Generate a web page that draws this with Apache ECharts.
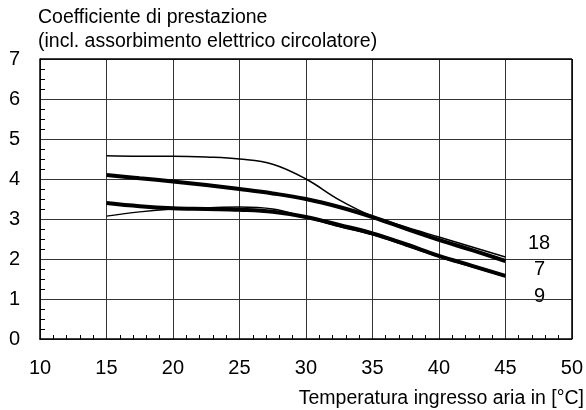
<!DOCTYPE html>
<html>
<head>
<meta charset="utf-8">
<script src="https://cdn.jsdelivr.net/npm/echarts@6/dist/echarts.min.js"></script>
<style>
  html, body { margin: 0; padding: 0; background: #fff; }
  #chart { width: 586px; height: 410px; }
</style>
</head>
<body>
<div id="chart"></div>
<script>
  // temperatura ingresso aria [°C]
  var temps = [15, 17.5, 20, 22.5, 25, 27.5, 30, 32.5, 35, 37.5, 40, 42.5, 45]
  // curve sottili / spesse
  var thinUpper = [4.58, 4.57, 4.57, 4.55, 4.5, 4.37, 4.0, 3.48, 3.07, 2.8, 2.55, 2.3, 2.05]
  var thickUpper = [4.1, 4.02, 3.94, 3.85, 3.75, 3.64, 3.5, 3.3, 3.05, 2.76, 2.48, 2.22, 1.95]
  var thickLower = [3.4, 3.32, 3.27, 3.25, 3.23, 3.18, 3.05, 2.85, 2.64, 2.37, 2.08, 1.83, 1.58]
  var thinLower = [3.07, 3.18, 3.25, 3.28, 3.3, 3.25, 3.04, 2.81, 2.6, 2.33, 2.05, 1.8, 1.56]
  var curveLabels = ['18', '7', '9']

  var font = 'Liberation Sans, Arial, sans-serif'

  function pairs(vals) {
    return vals.map(function (v, i) { return [temps[i], v] })
  }

  function line(name, vals, width) {
    return {
      name: name,
      type: 'line',
      data: pairs(vals),
      smooth: 0.4,
      showSymbol: false,
      lineStyle: { color: '#000', width: width },
      z: width > 2 ? 3 : 4
    }
  }

  var chart = echarts.init(document.getElementById('chart'))
  chart.setOption({
    animation: false,
    grid: { left: 40, top: 59, width: 533, height: 280, containLabel: false },
    xAxis: {
      type: 'value',
      min: 10, max: 50, interval: 5,
      axisLine: { lineStyle: { color: '#000', width: 1.5 } },
      axisTick: { show: false, inside: true },
      minorTick: { show: true, splitNumber: 5, length: 4, lineStyle: { color: '#000' } },
      axisLabel: { color: '#000', fontSize: 20, fontFamily: font, margin: 19 },
      splitLine: { show: true, lineStyle: { color: '#333', width: 1 } }
    },
    yAxis: {
      type: 'value',
      min: 0, max: 7, interval: 1,
      axisLine: { show: true, lineStyle: { color: '#000', width: 1.5 } },
      axisTick: { show: false, inside: true },
      minorTick: { show: true, splitNumber: 4, length: 5, lineStyle: { color: '#000' } },
      axisLabel: { color: '#000', fontSize: 20, fontFamily: font, margin: 20 },
      splitLine: { show: true, lineStyle: { color: '#333', width: 1 } }
    },
    series: [
      line('thinUpper', thinUpper, 1.5),
      line('thickUpper', thickUpper, 4),
      line('thickLower', thickLower, 4),
      line('thinLower', thinLower, 1.3),
      // bordo del grafico
      {
        type: 'line', data: [], markLine: { silent: true, symbol: 'none', label: { show: false },
          lineStyle: { color: '#000', width: 1.5, type: 'solid' },
          data: [{ yAxis: 7 }, { xAxis: 50 }] }
      }
    ],
    graphic: [
      { type: 'text', left: 38, top: 8, style: { text: 'Coefficiente di prestazione', font: '19.5px ' + font, fill: '#000' } },
      { type: 'text', left: 38, top: 32, style: { text: '(incl. assorbimento elettrico circolatore)', font: '19.5px ' + font, fill: '#000' } },
      { type: 'text', right: 2, top: 389, style: { text: 'Temperatura ingresso aria in [°C]', font: '19.5px ' + font, fill: '#000' } },
      { type: 'text', left: 528, top: 233, style: { text: curveLabels[0], font: '20px ' + font, fill: '#000' } },
      { type: 'text', left: 534, top: 259, style: { text: curveLabels[1], font: '20px ' + font, fill: '#000' } },
      { type: 'text', left: 534, top: 286, style: { text: curveLabels[2], font: '20px ' + font, fill: '#000' } }
    ]
  })
</script>
</body>
</html>
